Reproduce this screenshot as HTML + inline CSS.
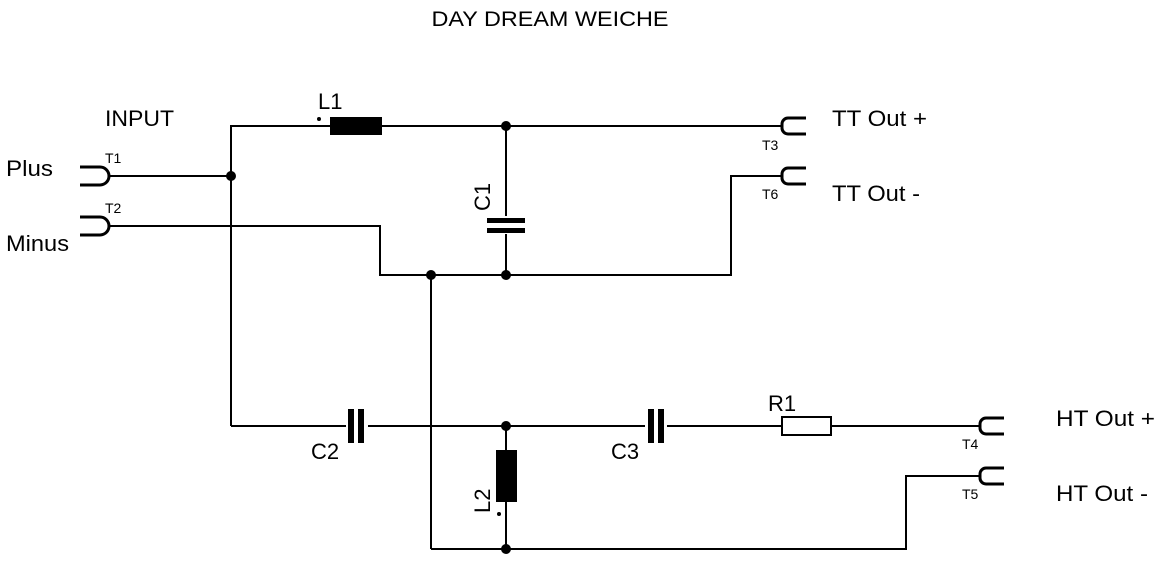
<!DOCTYPE html>
<html><head><style>body{margin:0;background:#fff}svg{display:block}text{font-family:"Liberation Sans",sans-serif;fill:#000}</style></head><body>
<svg width="1166" height="570" viewBox="0 0 1166 570" xmlns="http://www.w3.org/2000/svg">
<g stroke="#000" stroke-width="2" fill="none">
<polyline points="231,426 231,126 782,126"/>
<line x1="108" y1="176" x2="231" y2="176"/>
<polyline points="108,226 380,226 380,275 731,275 731,176 782,176"/>
<line x1="506" y1="126" x2="506" y2="275"/>
<line x1="431" y1="275" x2="431" y2="549"/>
<line x1="231" y1="426" x2="980" y2="426"/>
<line x1="506" y1="426" x2="506" y2="549"/>
<polyline points="431,549 906,549 906,476 980,476"/>
</g>
<g stroke="#000" stroke-width="3" fill="none">
<path d="M80,167 H100 A9,9 0 0 1 100,185 H80"/>
<path d="M80,217 H100 A9,9 0 0 1 100,235 H80"/>
<path d="M806,118 H788 A6,6 0 0 0 782,124 V128 A6,6 0 0 0 788,134 H806"/>
<path d="M806,168 H788 A6,6 0 0 0 782,174 V178 A6,6 0 0 0 788,184 H806"/>
<path d="M1004,418 H986 A6,6 0 0 0 980,424 V428 A6,6 0 0 0 986,434 H1004"/>
<path d="M1004,468 H986 A6,6 0 0 0 980,474 V478 A6,6 0 0 0 986,484 H1004"/>
</g>
<rect x="330" y="117" width="52" height="18" fill="#000"/>
<circle cx="319" cy="119" r="2" fill="#000"/>
<rect x="487" y="216" width="38" height="18" fill="#fff"/>
<rect x="487" y="218" width="38" height="5" fill="#000"/>
<rect x="487" y="228" width="38" height="5" fill="#000"/>
<rect x="346" y="409" width="22" height="34" fill="#fff"/>
<rect x="348" y="409" width="6" height="34" fill="#000"/>
<rect x="358" y="409" width="6" height="34" fill="#000"/>
<rect x="645" y="409" width="22" height="34" fill="#fff"/>
<rect x="648" y="409" width="6" height="34" fill="#000"/>
<rect x="658" y="409" width="6" height="34" fill="#000"/>
<rect x="496" y="450" width="21" height="52" fill="#000"/>
<circle cx="499" cy="514" r="2" fill="#000"/>
<rect x="782" y="417" width="49" height="18" fill="#fff" stroke="#000" stroke-width="2"/>
<g fill="#000">
<circle cx="231" cy="176" r="5"/><circle cx="506" cy="126" r="5"/><circle cx="506" cy="275" r="5"/>
<circle cx="431" cy="275" r="5"/><circle cx="506" cy="426" r="5"/><circle cx="506" cy="549" r="5"/>
</g>
<text x="550" y="26" font-size="21" text-anchor="middle" textLength="237" lengthAdjust="spacingAndGlyphs">DAY DREAM WEICHE</text>
<text x="105" y="126" font-size="22" textLength="69" lengthAdjust="spacingAndGlyphs">INPUT</text>
<text x="6" y="176" font-size="22" textLength="47" lengthAdjust="spacingAndGlyphs">Plus</text>
<text x="6" y="251" font-size="22" textLength="63" lengthAdjust="spacingAndGlyphs">Minus</text>
<text x="105" y="163" font-size="14">T1</text>
<text x="105" y="213" font-size="14">T2</text>
<text x="318" y="109" font-size="22">L1</text>
<text x="832" y="126" font-size="22" textLength="95" lengthAdjust="spacingAndGlyphs">TT Out +</text>
<text x="832" y="201" font-size="22" textLength="88" lengthAdjust="spacingAndGlyphs">TT Out -</text>
<text x="762" y="150" font-size="14">T3</text>
<text x="762" y="199" font-size="14">T6</text>
<text x="1056" y="426" font-size="22" textLength="99" lengthAdjust="spacingAndGlyphs">HT Out +</text>
<text x="1056" y="501" font-size="22" textLength="92" lengthAdjust="spacingAndGlyphs">HT Out -</text>
<text x="962" y="449" font-size="14">T4</text>
<text x="962" y="499" font-size="14">T5</text>
<text x="311" y="459" font-size="22">C2</text>
<text x="611" y="459" font-size="22">C3</text>
<text x="768" y="411" font-size="22">R1</text>
<text transform="translate(490,211) rotate(-90)" font-size="22">C1</text>
<text transform="translate(490,513) rotate(-90)" font-size="22">L2</text>
</svg>
</body></html>
